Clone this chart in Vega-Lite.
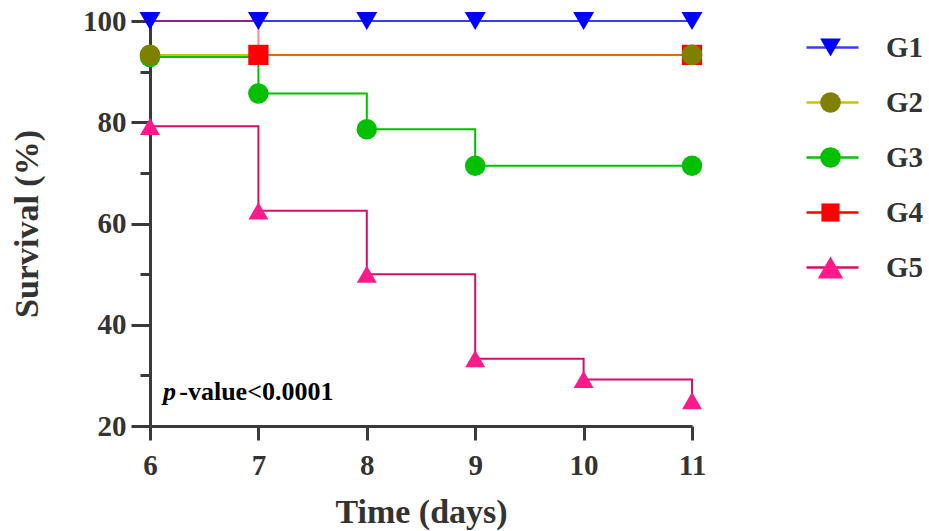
{
  "$schema": "https://vega.github.io/schema/vega-lite/v6.json",
  "width": 542,
  "height": 405,
  "autosize": {"type": "none"},
  "padding": {"left": 150, "top": 21, "right": 237, "bottom": 105},
  "background": "white",
  "config": {"view": {"stroke": null}, "font": "Liberation Serif"},
  "datasets": {
    "surv": [
      {"group": "G1", "day": 6, "surv": 100, "mark": 1},
      {"group": "G1", "day": 7, "surv": 100, "mark": 1},
      {"group": "G1", "day": 8, "surv": 100, "mark": 1},
      {"group": "G1", "day": 9, "surv": 100, "mark": 1},
      {"group": "G1", "day": 10, "surv": 100, "mark": 1},
      {"group": "G1", "day": 11, "surv": 100, "mark": 1},
      {"group": "G2", "day": 6, "surv": 93.3, "mark": 1},
      {"group": "G2", "day": 11, "surv": 93.3, "mark": 1},
      {"group": "G3", "day": 6, "surv": 92.9, "mark": 1},
      {"group": "G3", "day": 7, "surv": 85.7, "mark": 1},
      {"group": "G3", "day": 8, "surv": 78.6, "mark": 1},
      {"group": "G3", "day": 9, "surv": 71.4, "mark": 1},
      {"group": "G3", "day": 11, "surv": 71.4, "mark": 1},
      {"group": "G4", "day": 6, "surv": 100, "mark": 0},
      {"group": "G4", "day": 7, "surv": 93.3, "mark": 1},
      {"group": "G4", "day": 11, "surv": 93.3, "mark": 1},
      {"group": "G5", "day": 6, "surv": 79.2, "mark": 1},
      {"group": "G5", "day": 7, "surv": 62.5, "mark": 1},
      {"group": "G5", "day": 8, "surv": 50, "mark": 1},
      {"group": "G5", "day": 9, "surv": 33.3, "mark": 1},
      {"group": "G5", "day": 10, "surv": 29.2, "mark": 1},
      {"group": "G5", "day": 11, "surv": 25, "mark": 1}
    ],
    "note": [
      {"day": 6.12, "surv": 25.1, "p": "p", "rest": "-value<0.0001", "day2": 6.27}
    ]
  },
  "layer": [
    {
      "data": {"name": "surv"},
      "mark": {"type": "line", "interpolate": "step-after", "strokeWidth": 2},
      "encoding": {
        "x": {
          "field": "day", "type": "quantitative",
          "scale": {"domain": [6, 11], "nice": false, "zero": false},
          "axis": {
            "values": [6, 7, 8, 9, 10, 11], "format": "d",
            "title": "Time (days)",
            "titleFontSize": 34, "titleFontWeight": "bold", "titleColor": "#333333", "titlePadding": 15,
            "labelFontSize": 29, "labelFontWeight": "bold", "labelColor": "#333333", "labelPadding": 11,
            "tickSize": 14, "tickWidth": 3, "tickColor": "#3a3a3a",
            "domainWidth": 3, "domainColor": "#3a3a3a", "grid": false, "labelFlush": false
          }
        },
        "y": {
          "field": "surv", "type": "quantitative",
          "scale": {"domain": [20, 100], "nice": false, "zero": false},
          "axis": {
            "values": [20, 25, 30, 35, 40, 45, 50, 55, 60, 65, 70, 75, 80, 85, 90, 95, 100],
            "labelExpr": "datum.value % 20 === 0 ? datum.label : ''",
            "title": "Survival (%)",
            "titleFontSize": 34, "titleFontWeight": "bold", "titleColor": "#333333", "titlePadding": 38,
            "labelFontSize": 29, "labelFontWeight": "bold", "labelColor": "#333333", "labelPadding": 5,
            "tickSize": {"condition": {"test": "datum.value % 20 === 0", "value": 19}, "value": 10},
            "tickWidth": 3, "tickColor": "#3a3a3a",
            "domainWidth": 3, "domainColor": "#3a3a3a", "grid": false, "labelFlush": false
          }
        },
        "color": {
          "field": "group", "type": "nominal",
          "scale": {"domain": ["G1", "G2", "G3", "G4", "G5"], "range": ["#3a3aff", "#c8c400", "#00c000", "#ff0000", "#d0106a"]},
          "legend": {
            "title": null, "orient": "none", "legendX": 655, "legendY": -1,
            "symbolType": "stroke", "symbolSize": 2704, "symbolStrokeWidth": 2.5,
            "labelFontSize": 29, "labelFontWeight": "bold", "labelExpr": "''",
            "rowPadding": 12, "padding": 0
          }
        },
        "strokeOpacity": {"condition": {"test": "datum.group === 'G4'", "value": 0.45}, "value": 1}
      }
    },
    {
      "data": {"name": "surv"},
      "transform": [{"filter": "datum.mark == 1"}],
      "mark": {"type": "point", "filled": true, "opacity": 1, "strokeWidth": 0},
      "encoding": {
        "x": {"field": "day", "type": "quantitative"},
        "y": {"field": "surv", "type": "quantitative"},
        "color": {
          "field": "group", "type": "nominal",
          "scale": {"domain": ["G1", "G2", "G3", "G4", "G5"], "range": ["#0000ff", "#808000", "#00c000", "#ff0000", "#ff1a8c"]},
          "legend": {
            "title": null, "orient": "none", "legendX": 666, "legendY": 12,
            "symbolSize": 450, "labelFontSize": 29, "labelFontWeight": "bold", "labelColor": "#333333",
            "labelOffset": 41, "rowPadding": 25, "padding": 0, "symbolOpacity": 1,
            "encode": {
              "symbols": {
                "update": {
                  "shape": {"signal": "datum.value === 'G1' ? 'triangle-down' : datum.value === 'G4' ? 'square' : datum.value === 'G5' ? 'triangle-up' : 'circle'"},
                  "size": {"signal": "datum.value === 'G5' ? 650 : datum.value === 'G4' ? 330 : 430"}
                }
              }
            }
          }
        },
        "shape": {
          "field": "group", "type": "nominal",
          "scale": {"domain": ["G1", "G2", "G3", "G4", "G5"], "range": ["triangle-down", "circle", "circle", "square", "triangle-up"]},
          "legend": null
        },
        "size": {
          "field": "group", "type": "nominal",
          "scale": {"domain": ["G1", "G2", "G3", "G4", "G5"], "range": [441, 400, 400, 330, 700]},
          "legend": null
        },
        "order": {"field": "group", "sort": "descending"}
      }
    },
    {
      "data": {"name": "note"},
      "mark": {"type": "text", "align": "left", "baseline": "alphabetic", "fontSize": 26, "fontWeight": "bold", "fontStyle": "italic", "color": "#000000"},
      "encoding": {
        "x": {"field": "day", "type": "quantitative"},
        "y": {"field": "surv", "type": "quantitative"},
        "text": {"field": "p"}
      }
    },
    {
      "data": {"name": "note"},
      "mark": {"type": "text", "align": "left", "baseline": "alphabetic", "fontSize": 26, "fontWeight": "bold", "color": "#000000"},
      "encoding": {
        "x": {"field": "day2", "type": "quantitative"},
        "y": {"field": "surv", "type": "quantitative"},
        "text": {"field": "rest"}
      }
    }
  ],
  "resolve": {"scale": {"color": "independent"}, "legend": {"color": "independent"}}
}
